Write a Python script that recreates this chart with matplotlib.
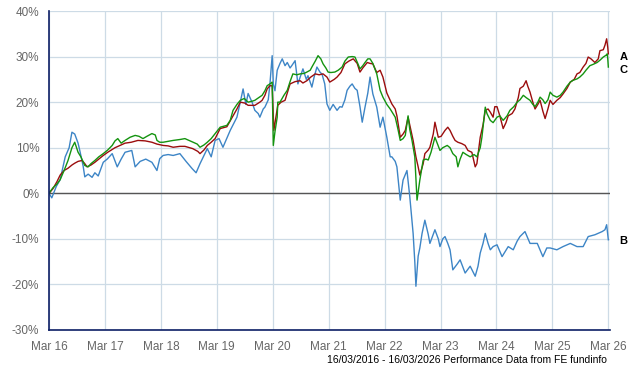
import matplotlib
matplotlib.use("Agg")
from matplotlib import pyplot as plt

plt.rcParams['font.family'] = ['Liberation Sans', 'DejaVu Sans']

# years since 16/03/2016, cumulative performance in %
a_t = [0.00, 0.07, 0.14, 0.20, 0.27, 0.34, 0.41, 0.46, 0.52, 0.59, 0.64, 0.68, 0.75, 0.82, 0.89, 0.97,
       1.05, 1.18, 1.27, 1.36, 1.47, 1.59, 1.72, 1.84, 1.93, 2.04, 2.13, 2.22, 2.34, 2.43, 2.57, 2.66,
       2.70, 2.77, 2.83, 2.90, 2.97, 3.06, 3.18, 3.29, 3.36, 3.42, 3.50, 3.56, 3.68, 3.77, 3.81, 3.86,
       3.90, 3.95, 3.99, 4.02, 4.06, 4.09, 4.15, 4.22, 4.31, 4.40, 4.49, 4.54, 4.61, 4.68, 4.76, 4.83,
       4.90, 4.97, 5.02, 5.10, 5.15, 5.22, 5.29, 5.36, 5.44, 5.51, 5.56, 5.61, 5.69, 5.74, 5.79, 5.86,
       5.92, 5.97, 6.04, 6.13, 6.19, 6.22, 6.28, 6.33, 6.37, 6.42, 6.45, 6.51, 6.56, 6.60, 6.63, 6.69,
       6.72, 6.78, 6.81, 6.87, 6.90, 6.96, 7.01, 7.08, 7.13, 7.17, 7.22, 7.26, 7.31, 7.38, 7.44, 7.49,
       7.56, 7.62, 7.65, 7.71, 7.76, 7.80, 7.85, 7.89, 7.94, 7.97, 8.01, 8.06, 8.12, 8.17, 8.21, 8.28,
       8.33, 8.39, 8.42, 8.48, 8.53, 8.56, 8.60, 8.65, 8.69, 8.74, 8.78, 8.83, 8.87, 8.92, 8.96, 9.01,
       9.08, 9.14, 9.19, 9.26, 9.32, 9.39, 9.44, 9.49, 9.55, 9.60, 9.64, 9.69, 9.76, 9.82, 9.85, 9.91,
       9.94, 9.97, 9.99, 10.00]
a_v = [0, 1, 2.5, 4, 5, 5.5, 6.2, 6.6, 7, 7.2, 6.5, 5.8, 6.2, 6.8, 7.5, 8.3,
       9, 10, 10.5, 11, 11.2, 11.6, 11.5, 11.2, 10.8, 10.5, 10.4, 10.1, 10.3, 10.3, 9.8, 9.2,
       8.7, 9.5, 10.5, 11.2, 12, 14.2, 14.6, 17, 18.5, 20, 19.8, 19.3, 19.3, 20, 20.4, 21.5,
       22.9, 23.6, 23.6, 13.8, 17, 19.3, 20, 20.4, 24, 24.5, 24.7, 24.2, 24.7, 25.5, 26.2, 26,
       26.2, 25.5, 24.4, 25, 25.5, 26.5, 28.4, 29, 29.5, 28.5, 26.6, 27.5, 28.7, 28.5, 28.4, 26.5,
       27, 25.5, 22, 19.6, 18.5, 17, 12.3, 13, 13.8, 16.7, 15, 11.6, 8, 5.8, 4, 6.5,
       8.7, 9.5, 10.1, 13, 15.6, 12.3, 12.5, 13.8, 14.5, 13.8, 12.5, 11.6, 11.2, 10.9, 10.5, 9.4,
       9, 5.8, 6.5, 12.3, 15, 18.2, 18.5, 17.8, 16.7, 19, 19, 17, 14.2, 15.5, 17, 17.5,
       18.5, 21, 23, 23.5, 24.7, 23.5, 22.2, 20, 18.5, 19.5, 20.4, 18, 16.4, 18.5, 20.4, 19.5,
       20.4, 21, 21.8, 23, 24.4, 25, 26.2, 26.5, 27.7, 28.5, 29.9, 29.5, 28.7, 29.5, 31.3, 31.5,
       32.5, 33.9, 32, 30.6]

b_t = [0.00, 0.05, 0.13, 0.20, 0.29, 0.36, 0.41, 0.46, 0.52, 0.55, 0.61, 0.64, 0.70, 0.77, 0.82, 0.88,
       0.97, 1.04, 1.13, 1.22, 1.29, 1.36, 1.48, 1.54, 1.63, 1.73, 1.84, 1.93, 1.98, 2.04, 2.13, 2.22,
       2.34, 2.45, 2.56, 2.63, 2.70, 2.83, 2.90, 2.97, 3.04, 3.11, 3.24, 3.36, 3.42, 3.47, 3.52, 3.56,
       3.63, 3.68, 3.74, 3.77, 3.83, 3.86, 3.92, 3.95, 3.99, 4.01, 4.04, 4.08, 4.13, 4.17, 4.22, 4.26,
       4.31, 4.34, 4.40, 4.45, 4.49, 4.54, 4.60, 4.63, 4.70, 4.74, 4.79, 4.85, 4.88, 4.93, 4.97, 5.02,
       5.08, 5.15, 5.20, 5.24, 5.29, 5.33, 5.38, 5.42, 5.47, 5.51, 5.56, 5.60, 5.65, 5.70, 5.74, 5.79,
       5.86, 5.92, 5.97, 6.04, 6.10, 6.13, 6.19, 6.22, 6.28, 6.33, 6.40, 6.45, 6.51, 6.54, 6.56, 6.60,
       6.63, 6.67, 6.72, 6.78, 6.81, 6.87, 6.90, 6.96, 6.99, 7.04, 7.08, 7.13, 7.17, 7.22, 7.30, 7.35,
       7.44, 7.53, 7.62, 7.67, 7.71, 7.76, 7.80, 7.85, 7.89, 7.94, 8.01, 8.10, 8.21, 8.30, 8.37, 8.42,
       8.51, 8.60, 8.73, 8.83, 8.90, 8.96, 9.08, 9.19, 9.32, 9.44, 9.55, 9.64, 9.76, 9.89, 9.94, 9.97,
       10.00]
b_v = [0, -1.0, 1.5, 3, 8, 10, 13.4, 13, 11, 9.4, 6, 3.6, 4.2, 3.5, 4.5, 3.8,
       6.8, 7.5, 8.7, 5.8, 7.5, 9, 9.4, 5.8, 7, 7.5, 6.8, 5, 7.6, 8.3, 8.5, 8.3,
       8.7, 7, 5.4, 4.5, 6.5, 9.8, 8, 11.6, 12, 10.1, 13.8, 16.7, 20, 22.9, 19.5, 21.9,
       20, 18.2, 17.5, 16.7, 18.5, 18.9, 20.5, 24, 30.2, 24, 22.5, 27, 28.5, 29.5, 28, 28.7,
       27.5, 28, 29.1, 24, 25.5, 27.3, 25, 25.8, 23.3, 25.5, 27.7, 26.5, 26.2, 24, 19.6, 18.2,
       19.5, 18.2, 19, 18.9, 20.5, 22.6, 23.5, 24, 23, 22.6, 19, 15.6, 18.9, 22, 25.5, 21.8,
       18.9, 14.5, 16.7, 12.3, 8, 8, 7, 5.8, -1.5, 2.9, 5, -0.7, -8.8, -15, -20.4, -13.8,
       -12, -8.8, -5.9, -9, -11, -9, -8, -10, -11.7, -10, -9.5, -11, -12.4, -16.8, -15.5, -14.6,
       -17.5, -16, -18.2, -16, -13.1, -11, -8.8, -11, -12.4, -11.7, -11.3, -13.9, -11.7, -12.4, -10.5, -9.5,
       -8.4, -11, -11, -13.9, -12, -12, -12.4, -11.7, -11, -11.7, -11.7, -9.5, -9.1, -8.4, -8, -6.9,
       -10.2]

c_t = [0.00, 0.07, 0.14, 0.20, 0.27, 0.34, 0.41, 0.46, 0.52, 0.57, 0.64, 0.70, 0.75, 0.82, 0.89, 0.97,
       1.05, 1.13, 1.18, 1.23, 1.29, 1.36, 1.45, 1.54, 1.61, 1.68, 1.75, 1.84, 1.90, 1.93, 1.98, 2.04,
       2.13, 2.22, 2.34, 2.43, 2.52, 2.57, 2.65, 2.70, 2.77, 2.83, 2.90, 2.97, 3.06, 3.18, 3.24, 3.29,
       3.36, 3.42, 3.49, 3.56, 3.63, 3.68, 3.75, 3.81, 3.86, 3.90, 3.95, 3.99, 4.01, 4.04, 4.08, 4.09,
       4.13, 4.20, 4.26, 4.31, 4.36, 4.43, 4.49, 4.56, 4.61, 4.67, 4.70, 4.76, 4.81, 4.86, 4.90, 4.95,
       4.99, 5.04, 5.11, 5.17, 5.24, 5.29, 5.35, 5.42, 5.47, 5.52, 5.56, 5.61, 5.65, 5.70, 5.74, 5.79,
       5.86, 5.92, 5.97, 6.04, 6.10, 6.19, 6.24, 6.28, 6.33, 6.37, 6.42, 6.45, 6.49, 6.54, 6.58, 6.63,
       6.69, 6.74, 6.78, 6.83, 6.90, 6.94, 6.99, 7.04, 7.12, 7.17, 7.22, 7.28, 7.31, 7.35, 7.40, 7.46,
       7.53, 7.60, 7.65, 7.71, 7.74, 7.80, 7.83, 7.89, 7.94, 8.01, 8.06, 8.12, 8.19, 8.24, 8.31, 8.37,
       8.42, 8.48, 8.53, 8.60, 8.65, 8.69, 8.74, 8.78, 8.83, 8.87, 8.92, 8.96, 9.01, 9.08, 9.14, 9.19,
       9.26, 9.32, 9.37, 9.44, 9.49, 9.55, 9.60, 9.67, 9.73, 9.80, 9.85, 9.91, 9.96, 9.98, 9.99, 10.00]
c_v = [0, 1.2, 2, 3, 5, 7.2, 10, 11.2, 9, 8, 6.1, 5.8, 6.5, 7.2, 8, 8.7,
       9.5, 10.5, 11.5, 12, 11, 11.6, 12.3, 12.7, 12.5, 12, 12.5, 13.1, 12.8, 11.6, 11.2, 11.2,
       11.4, 11.6, 11.8, 12, 11.5, 11.2, 10.8, 10.1, 10.6, 11.2, 12, 13.1, 14.5, 14.9, 16, 18.2,
       19.5, 20.4, 20.8, 20, 20.2, 20.4, 21, 21.5, 22.5, 23.6, 24, 24.4, 10.5, 13.5, 16.7, 20,
       20, 21.5, 22.6, 24.5, 26.2, 26, 26.2, 26.3, 26.6, 27, 27.7, 29, 30.2, 29.5, 28.4, 27.5,
       26.6, 26.5, 26.6, 27, 27.7, 29, 29.9, 30, 29.9, 28.5, 27.3, 28, 28.7, 29.5, 29.5, 28.5,
       26.2, 22.6, 21.1, 19.5, 18.5, 16.7, 14, 11.6, 12, 12.7, 17, 14, 11.6, 8, -1.5, 2.9,
       7.3, 7.5, 7.3, 9, 12.3, 11, 9.4, 10, 10.5, 10, 8.7, 8, 5.8, 7.5, 9, 8.5,
       8, 8.5, 8, 10, 12.3, 18.9, 17.5, 16, 15.5, 16.7, 17, 16, 17, 18.2, 19, 20,
       20.5, 21.5, 21, 20.4, 19.5, 19, 20, 21.1, 20.5, 19.7, 20.5, 22.2, 21.5, 21.1, 21.5, 22.2,
       23.5, 24.4, 24.8, 25.1, 25.5, 26.2, 27, 28, 28.3, 28.7, 29.2, 29.9, 30.3, 30.6, 29.5, 27.7]

year_ticks = list(range(11))
year_labels = ["Mar 16", "Mar 17", "Mar 18", "Mar 19", "Mar 20", "Mar 21",
               "Mar 22", "Mar 23", "Mar 24", "Mar 25", "Mar 26"]
pct_ticks = [-30, -20, -10, 0, 10, 20, 30, 40]

fig = plt.figure(figsize=(6.4, 3.7), dpi=100)
ax = fig.add_axes([49 / 640, 40 / 370, 561 / 640, 319 / 370])

ax.plot(b_t, b_v, color="#3d85c6", lw=1.0)
ax.plot(a_t, a_v, color="#9b0d0d", lw=1.0)
ax.plot(c_t, c_v, color="#14930f", lw=1.0)
ax.axhline(0, color="#555555", lw=1.0, zorder=1.5)

ax.set_xlim(0, 10.03)
ax.set_ylim(-30, 40)
ax.set_xticks(year_ticks)
ax.set_xticklabels(year_labels)
ax.set_yticks(pct_ticks)
ax.set_yticklabels([f"{p}%" for p in pct_ticks])
ax.grid(True, color="#cddbe6", lw=0.9)
ax.set_axisbelow(True)
ax.tick_params(length=0, labelsize=8.5, labelcolor="#666666")
ax.tick_params(axis="y", pad=7)
ax.tick_params(axis="x", pad=8)
for side in ["top", "right"]:
    ax.spines[side].set_visible(False)
for side in ["left", "bottom"]:
    ax.spines[side].set_color("#0d1f66")
    ax.spines[side].set_linewidth(1.2)

for name, vals, dy in [("A", a_v, -2), ("C", c_v, -2), ("B", b_v, -1)]:
    ax.annotate(name, (10.0, vals[-1]), xytext=(8, dy), textcoords="offset points",
                fontsize=8, fontweight="bold", va="center", ha="left", annotation_clip=False)

fig.text(607 / 640, 5 / 370, "16/03/2016 - 16/03/2026 Performance Data from FE fundinfo",
         ha="right", va="bottom", fontsize=7.5, color="black")

fig.savefig("out.png", dpi=100)
